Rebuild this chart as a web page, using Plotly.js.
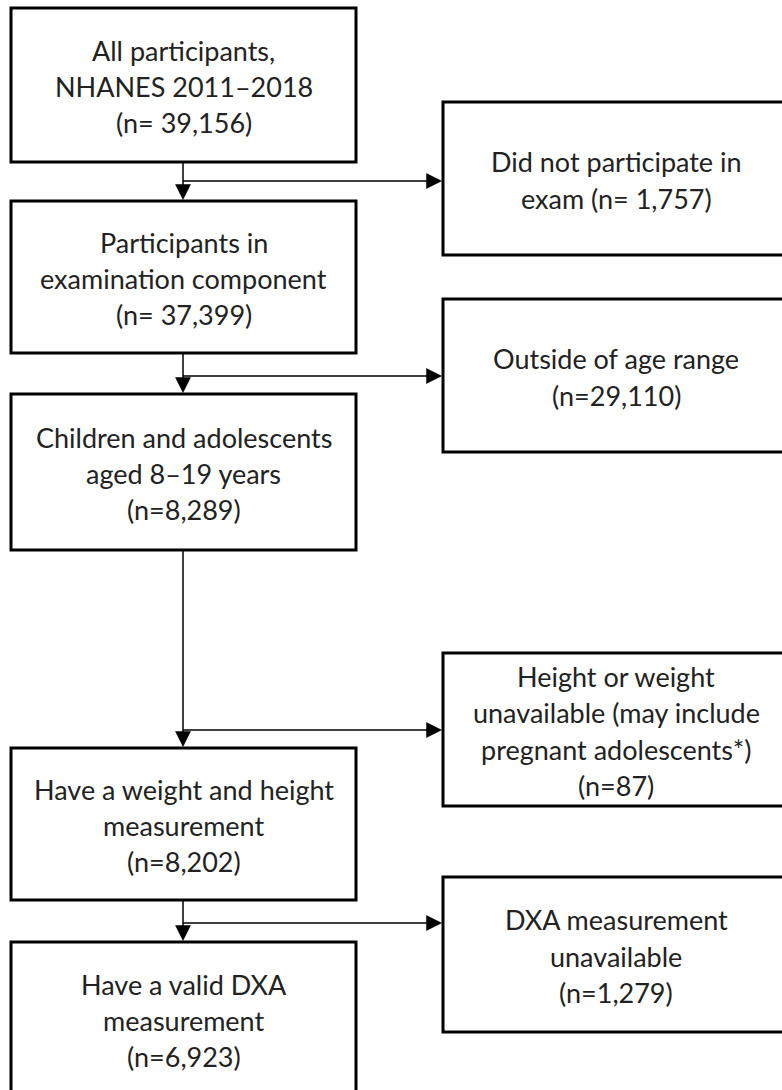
<!DOCTYPE html>
<html>
<head>
<meta charset="utf-8">
<script src="https://cdn.plot.ly/plotly-3.0.1.min.js"></script>
<style>html,body{margin:0;padding:0;background:#fff;overflow:hidden}</style>
</head>
<body>
<div id="chart" style="width:782px;height:1090px"></div>
<script>
// ---- Data: flowchart steps and exclusions ----
const stepText = [
  "All participants,<br>NHANES 2011–2018<br>(n= {n})",
  "Participants in<br>examination component<br>(n= {n})",
  "Children and adolescents<br>aged 8–19 years<br>(n={n})",
  "Have a weight and height<br>measurement<br>(n={n})",
  "Have a valid DXA<br>measurement<br>(n={n})"
];
const stepCounts = [39156, 37399, 8289, 8202, 6923];

const exclusionText = [
  "Did not participate in<br>exam (n= {n})",
  "Outside of age range<br>(n={n})",
  "Height or weight<br>unavailable (may include<br>pregnant adolescents*)<br>(n={n})",
  "DXA measurement<br>unavailable<br>(n={n})"
];
const exclusionCounts = [1757, 29110, 87, 1279];

// ---- Layout geometry (pixels in a 782x1090 frame) ----
const W = 782, H = 1090;
const leftX = [11, 356], rightX = [443, 792];
const spineX = 183;
const stepBoxY = [[8,162],[201,353],[394,550],[748,900],[942,1096]];
const exclBoxY = [[102,255],[299,452],[653,806],[877,1032]];
const branchY = [181, 376, 730, 923];
const lineGap = 36.2, headL = 15, headW = 7.5;
const FONT = {family: "Lato, 'Open Sans', sans-serif", size: 27, color: "#222222"};

const fmt = v => v.toLocaleString('en-US');
const shapes = [], annotations = [];

function box(x, y) {
  shapes.push({type:'rect', xref:'x', yref:'y', x0:x[0], x1:x[1], y0:y[0], y1:y[1],
    line:{color:'#000', width:3}, fillcolor:'rgba(0,0,0,0)', layer:'above'});
}
function seg(x0,y0,x1,y1){
  shapes.push({type:'line', xref:'x', yref:'y', x0, y0, x1, y1, line:{color:'#000', width:1.5}});
}
function tri(path){
  shapes.push({type:'path', xref:'x', yref:'y', path, fillcolor:'#000', line:{color:'#000', width:0.5}});
}
function label(text, cx, cy){
  const lines = text.split('<br>');
  lines.forEach((t, i) => {
    annotations.push({x:cx, y: cy + (i - (lines.length-1)/2)*lineGap, xref:'x', yref:'y',
      text:t, showarrow:false, xanchor:'center', yanchor:'middle', font:FONT});
  });
}

stepText.forEach((t, i) => {
  const y = stepBoxY[i];
  box(leftX, y);
  label(t.replace('{n}', fmt(stepCounts[i])), (leftX[0]+leftX[1])/2, (y[0]+y[1])/2 + 1.5);
});
exclusionText.forEach((t, i) => {
  const y = exclBoxY[i];
  box(rightX, y);
  label(t.replace('{n}', fmt(exclusionCounts[i])), 616, (y[0]+y[1])/2 + 1.5);
});

// connectors
for (let i = 0; i < stepBoxY.length - 1; i++) {
  const yTop = stepBoxY[i][1], yNext = stepBoxY[i+1][0] - 1.5, by = branchY[i];
  seg(spineX, yTop, spineX, yNext - headL + 1);
  tri(`M ${spineX-headW} ${yNext-headL} L ${spineX+headW} ${yNext-headL} L ${spineX} ${yNext} Z`);
  const xr = rightX[0] - 1.5;
  seg(spineX, by, xr - headL + 1, by);
  tri(`M ${xr-headL} ${by-headW} L ${xr-headL} ${by+headW} L ${xr} ${by} Z`);
}

const layout = {
  width: W, height: H,
  margin: {l:0, r:0, t:0, b:0, pad:0},
  paper_bgcolor: '#fff', plot_bgcolor: '#fff',
  xaxis: {range:[0, W], visible:false, fixedrange:true},
  yaxis: {range:[H, 0], visible:false, fixedrange:true},
  showlegend: false,
  shapes, annotations
};
Plotly.newPlot('chart', [{x:[], y:[], type:'scatter', mode:'markers', hoverinfo:'skip'}], layout, {staticPlot:true, displayModeBar:false});
</script>
</body>
</html>
